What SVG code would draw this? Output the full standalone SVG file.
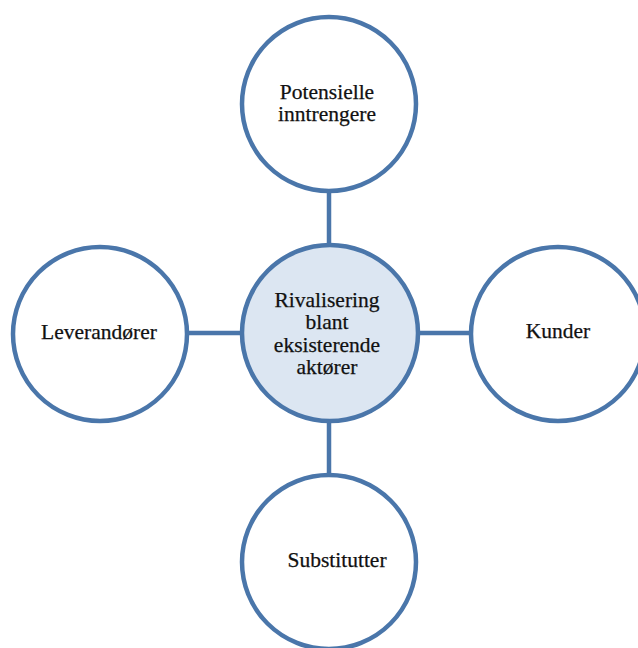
<svg xmlns="http://www.w3.org/2000/svg" width="638" height="648" viewBox="0 0 638 648">
  <style>
    .node { fill: #ffffff; stroke: #4a76aa; stroke-width: 4.5; }
    .core { fill: #dce6f2; }
    .link { stroke: #4a76aa; stroke-width: 4.5; fill: none; }
    .label { font-family: "Liberation Serif", "Times New Roman", serif; font-size: 21.5px; fill: #111111; stroke: #111111; stroke-width: 0.25; text-anchor: middle; }
  </style>
  <rect width="638" height="648" fill="#ffffff"/>

  <!-- connectors from the central circle to the four forces -->
  <g id="connectors">
    <line class="link" x1="329" y1="191" x2="329" y2="246"/>
    <line class="link" x1="329" y1="420" x2="329" y2="475"/>
    <line class="link" x1="187" y1="333" x2="243" y2="333"/>
    <line class="link" x1="417" y1="333" x2="471" y2="333"/>
  </g>

  <g id="potensielle-inntrengere">
    <circle class="node" cx="329" cy="104" r="87"/>
    <text class="label" x="327" y="99">Potensielle</text>
    <text class="label" x="327" y="121">inntrengere</text>
  </g>

  <g id="rivalisering">
    <circle class="node core" cx="330" cy="333" r="88"/>
    <text class="label" x="327" y="307">Rivalisering</text>
    <text class="label" x="327" y="329">blant</text>
    <text class="label" x="327" y="352">eksisterende</text>
    <text class="label" x="327" y="374">aktører</text>
  </g>

  <g id="leverandorer">
    <circle class="node" cx="100" cy="334" r="87"/>
    <text class="label" x="99" y="339">Leverandører</text>
  </g>

  <g id="kunder">
    <circle class="node" cx="558" cy="334" r="87"/>
    <text class="label" x="558" y="338">Kunder</text>
  </g>

  <g id="substitutter">
    <circle class="node" cx="329" cy="562" r="87"/>
    <text class="label" x="337" y="567">Substitutter</text>
  </g>
</svg>
